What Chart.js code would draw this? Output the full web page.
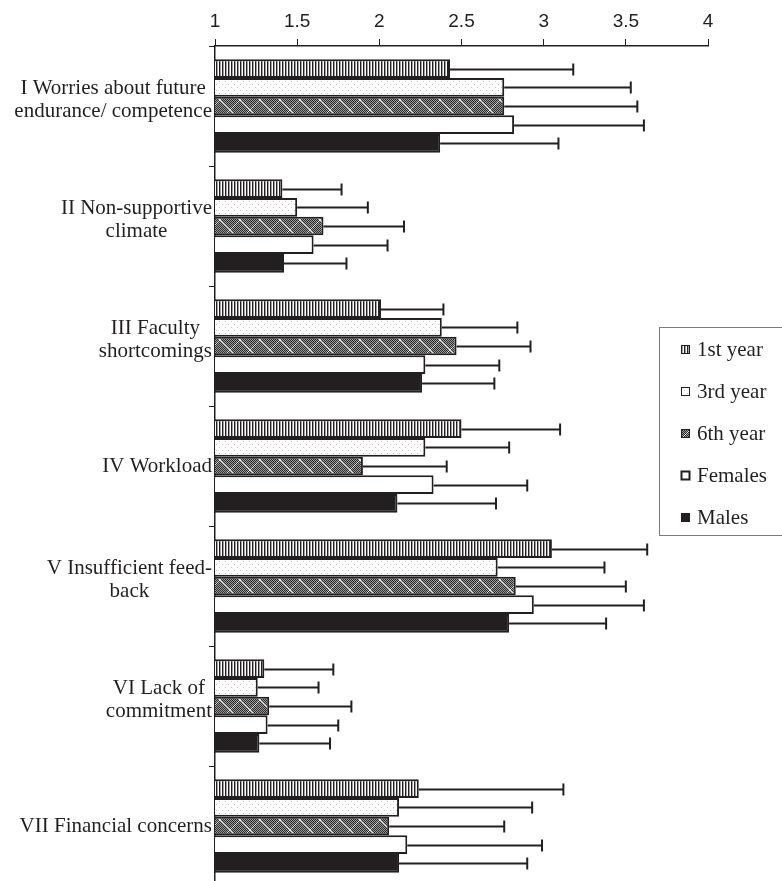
<!DOCTYPE html>
<html>
<head>
<meta charset="utf-8">
<script src="https://cdn.jsdelivr.net/npm/chart.js@4.4.1/dist/chart.umd.min.js"></script>
<style>
  html, body { margin: 0; padding: 0; background: #fff; overflow: hidden; }
  #wrap { position: relative; width: 782px; height: 890px; }
</style>
</head>
<body>
<div id="wrap"><canvas id="myChart" width="782" height="890"></canvas></div>
<script>
// categories (multi-line labels)
var categories = [
    ["I Worries about future", "endurance/ competence"],
    ["II Non-supportive", "climate"],
    ["III Faculty", "shortcomings"],
    ["IV Workload"],
    ["V Insufficient feed-", "back"],
    ["VI Lack of", "commitment"],
    ["VII Financial concerns"]
];
var seriesNames = ["1st year", "3rd year", "6th year", "Females", "Males"];

// mean scores
var year1   = [2.43, 1.41, 2.01, 2.50, 3.05, 1.30, 2.24];
var year3   = [2.76, 1.50, 2.38, 2.28, 2.72, 1.26, 2.12];
var year6   = [2.76, 1.66, 2.47, 1.90, 2.83, 1.33, 2.06];
var females = [2.82, 1.60, 2.28, 2.33, 2.94, 1.32, 2.17];
var males   = [2.37, 1.42, 2.26, 2.11, 2.79, 1.27, 2.12];

// error bar lengths (drawn to the right only)
var year1Err   = [0.75, 0.36, 0.38, 0.60, 0.58, 0.42, 0.88];
var year3Err   = [0.77, 0.43, 0.46, 0.51, 0.65, 0.37, 0.81];
var year6Err   = [0.81, 0.49, 0.45, 0.51, 0.67, 0.50, 0.70];
var femalesErr = [0.79, 0.45, 0.45, 0.57, 0.67, 0.43, 0.82];
var malesErr   = [0.72, 0.38, 0.44, 0.60, 0.59, 0.43, 0.78];

var xTickLabels = ["1", "1.5", "2", "2.5", "3", "3.5", "4"];

var INK = "#231f20";

function makePattern(w, h, draw) {
    var c = document.createElement("canvas");
    c.width = w; c.height = h;
    var g = c.getContext("2d");
    draw(g, w, h);
    return g.createPattern(c, "repeat");
}

var patStripes = makePattern(3, 4, function (g) {
    g.fillStyle = "#fff"; g.fillRect(0, 0, 3, 4);
    g.fillStyle = INK; g.fillRect(0, 0, 1, 4);
    g.fillStyle = "#a0a0a0"; g.fillRect(1, 0, 1, 4);
});
var patDots = makePattern(6, 6, function (g) {
    g.fillStyle = "#fff"; g.fillRect(0, 0, 6, 6);
    g.fillStyle = "#c4c4c4";
    g.fillRect(0, 0, 1, 1);
    g.fillRect(3, 3, 1, 1);
});
var patHatch = makePattern(20, 20, function (g) {
    for (var x = 0; x < 20; x++) {
        for (var y = 0; y < 20; y++) {
            g.fillStyle = (x + y) % 2 === 0 ? "#2b2b2b" : "#9a9a9a";
            g.fillRect(x, y, 1, 1);
        }
    }
    g.strokeStyle = "#e6e6e6";
    g.lineWidth = 1;
    g.beginPath();
    g.moveTo(0, 20); g.lineTo(20, 0);
    g.moveTo(0, 0); g.lineTo(20, 20);
    g.stroke();
});

var fills = [patStripes, patDots, patHatch, "#ffffff", INK];
var values = [year1, year3, year6, females, males];
var errors = [year1Err, year3Err, year6Err, femalesErr, malesErr];

var datasets = seriesNames.map(function (name, i) {
    return {
        label: name,
        data: values[i],
        errors: errors[i],
        backgroundColor: fills[i],
        borderColor: INK,
        borderWidth: 2,
        borderSkipped: false,
        categoryPercentage: 0.78,
        barPercentage: 1.0
    };
});

// one-sided error bars
var errorBars = {
    id: "errorBars",
    afterDatasetsDraw: function (chart) {
        var ctx = chart.ctx;
        var xs = chart.scales.x;
        ctx.save();
        ctx.strokeStyle = INK;
        ctx.lineWidth = 2;
        chart.data.datasets.forEach(function (ds, di) {
            var meta = chart.getDatasetMeta(di);
            meta.data.forEach(function (bar, i) {
                var x0 = bar.x;
                var x1 = xs.getPixelForValue(ds.data[i] + ds.errors[i]);
                var y = Math.round(bar.y) + 0.5;
                ctx.beginPath();
                ctx.moveTo(x0, y);
                ctx.lineTo(x1, y);
                ctx.moveTo(x1, y - 6);
                ctx.lineTo(x1, y + 6);
                ctx.stroke();
            });
        });
        ctx.restore();
    }
};

// category labels: lines centred within a right-aligned block
var catLabels = {
    id: "catLabels",
    afterDraw: function (chart) {
        var ctx = chart.ctx;
        var ys = chart.scales.y;
        ctx.save();
        ctx.font = '21px "Liberation Serif", "Times New Roman", serif';
        ctx.fillStyle = INK;
        ctx.textAlign = "center";
        ctx.textBaseline = "middle";
        categories.forEach(function (lines, i) {
            var yc = ys.getPixelForValue(i);
            var maxW = 0;
            lines.forEach(function (l) { maxW = Math.max(maxW, ctx.measureText(l).width); });
            var cx = 212 - maxW / 2;
            var lh = 23;
            var y0 = yc - (lines.length - 1) * lh / 2 - (lines.length > 1 ? 6 : 0);
            lines.forEach(function (l, k) {
                ctx.fillText(l, cx, y0 + k * lh);
            });
        });
        ctx.restore();
    }
};

// legend box on the right, drawn on the canvas
var boxLegend = {
    id: "boxLegend",
    afterDraw: function (chart) {
        var ctx = chart.ctx;
        ctx.save();
        ctx.strokeStyle = "#7a7a7a";
        ctx.lineWidth = 1;
        ctx.strokeRect(659.5, 327.5, 140, 208);
        ctx.font = '21px "Liberation Serif", "Times New Roman", serif';
        ctx.textBaseline = "middle";
        ctx.textAlign = "left";
        chart.data.datasets.forEach(function (ds, i) {
            var y = 349 + i * 42;
            ctx.fillStyle = ds.backgroundColor;
            ctx.fillRect(681, y - 4, 9, 9);
            ctx.strokeStyle = INK;
            ctx.lineWidth = i === 3 ? 2 : 1;
            ctx.strokeRect(681.5, y - 3.5, 8, 8);
            ctx.fillStyle = INK;
            ctx.fillText(ds.label, 697, y + 1);
        });
        ctx.restore();
    }
};

var ctx = document.getElementById("myChart");
var myBarChart = new Chart(ctx, {
    type: "bar",
    data: {
        labels: categories.map(function (c) { return c.join(" "); }),
        datasets: datasets
    },
    plugins: [errorBars, catLabels, boxLegend],
    options: {
        indexAxis: "y",
        responsive: false,
        animation: false,
        devicePixelRatio: 1,
        layout: { padding: { left: 0, right: 74, top: 0, bottom: 4 } },
        plugins: {
            legend: { display: false },
            tooltip: { enabled: false }
        },
        scales: {
            x: {
                position: "top",
                min: 1,
                max: 4,
                ticks: {
                    stepSize: 0.5,
                    color: INK,
                    padding: 6,
                    font: { family: '"Liberation Sans", Arial, sans-serif', size: 19 },
                    callback: function (v, i) { return xTickLabels[i]; }
                },
                grid: {
                    drawOnChartArea: false,
                    tickLength: 7,
                    color: INK,
                    lineWidth: 1
                },
                border: { color: INK, width: 1.5 },
                afterFit: function (s) { s.height = 46; }
            },
            y: {
                ticks: { display: false },
                grid: {
                    offset: true,
                    drawOnChartArea: false,
                    tickLength: 6,
                    color: INK,
                    lineWidth: 1
                },
                border: { color: INK, width: 1.5 },
                afterFit: function (s) { s.width = 215; }
            }
        }
    }
});
</script>
</body>
</html>
